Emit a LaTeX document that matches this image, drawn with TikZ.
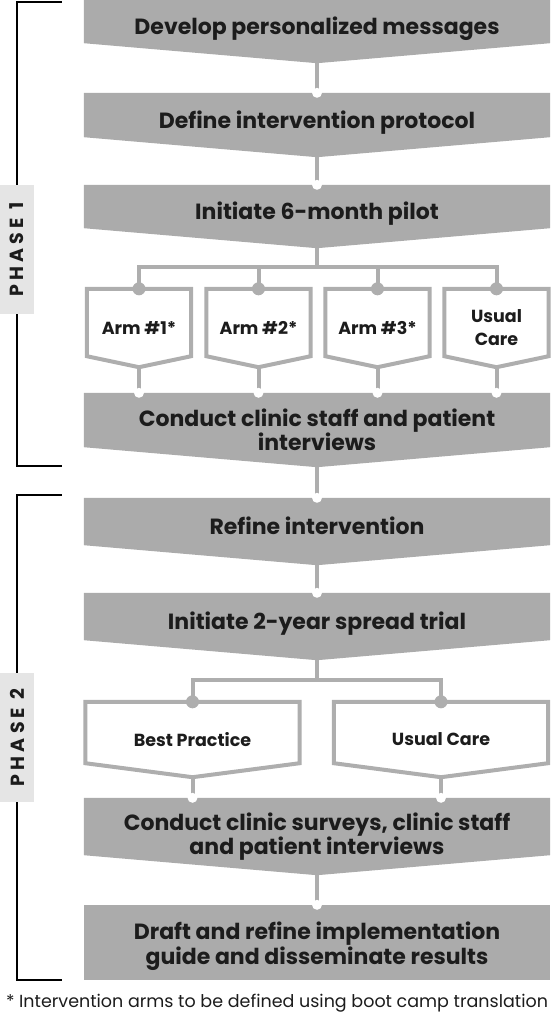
\documentclass[tikz,border=0pt]{standalone}
\usepackage{fontspec}
\setmainfont{Poppins}
\usetikzlibrary{calc, positioning, backgrounds}

\definecolor{stepgray}{RGB}{171,171,171}
\definecolor{wiregray}{RGB}{174,174,174}
\definecolor{tabgray}{RGB}{229,229,229}
\definecolor{inkgray}{RGB}{28,28,28}

\tikzset{
  graystep/.style={minimum width=466pt, inner sep=0pt, align=center, text=inkgray,
    font=\fontsize{22}{24.5}\selectfont\bfseries},
  oneline/.style={text height=17pt, text depth=11pt},
  armstep/.style={minimum width=104pt, inner sep=0pt, align=center, text=inkgray,
    font=\fontsize{17.5}{23}\selectfont\bfseries},
  wire/.style={draw=wiregray, line width=4pt},
  bracket/.style={draw=black, line width=1.6pt},
  phase/.style={fill=tabgray, rotate=90, minimum width=129pt, minimum height=34pt, inner sep=0pt,
    text=inkgray, font=\fontsize{19}{19}\selectfont\bfseries\addfontfeatures{LetterSpace=22}}
}

\begin{document}
\begin{tikzpicture}[x=1pt, y=-1pt]
\useasboundingbox (0,0) rectangle (552,1020);

% phase 1
\node[graystep, oneline, minimum height=63pt] (dev) at (317,31.5) {Develop personalized messages};
\node[graystep, oneline, minimum height=64pt] (proto) at (317,125) {Define intervention protocol};
\node[graystep, oneline, minimum height=63pt] (pilot) at (317,216.5) {Initiate 6-month pilot};
\node[armstep, minimum height=78pt] (arm1) at (139,328) {Arm \#1*};
\node[armstep, minimum height=78pt] (arm2) at (258.5,328) {Arm \#2*};
\node[armstep, minimum height=78pt] (arm3) at (377.5,328) {Arm \#3*};
\node[armstep, minimum height=78pt] (care1) at (496.5,328) {Usual\\Care};
\node[graystep, minimum height=74pt] (talk) at (317,430) {Conduct clinic staff and patient\\interviews};

% phase 2
\node[graystep, oneline, minimum height=67pt] (refine) at (317,531.5) {Refine intervention};
\node[graystep, oneline, minimum height=67pt] (spread) at (317,626.5) {Initiate 2-year spread trial};
\node[armstep, minimum width=214pt, minimum height=75pt] (best) at (192.5,739.5) {Best Practice};
\node[armstep, minimum width=214pt, minimum height=75pt] (care2) at (441,739.5) {Usual Care};
\node[graystep, minimum height=77pt] (survey) at (317,836.5) {Conduct clinic surveys, clinic staff\\and patient interviews};
\node[graystep, fill=stepgray, minimum height=75pt] (guide) at (317,942.5) {\rule{0pt}{25pt}Draft and refine implementation\\guide and disseminate results};

\begin{scope}[on background layer]
\foreach \s in {dev, proto, pilot, talk, refine, spread, survey}
  \fill[stepgray] (\s.north west) -- (\s.north east) -- ([yshift=20pt]\s.south east) -- (\s.south) -- ([yshift=20pt]\s.south west) -- cycle;
\end{scope}

% outlined arms
\foreach \a in {arm1, arm2, arm3, care1}
  \draw[wire] ([yshift=11pt]\a.south west) -- (\a.north west) -- (\a.north east) -- ([yshift=11pt]\a.south east) -- (\a.south) -- cycle;
\foreach \b in {best, care2}
  \draw[wire] ([yshift=14pt]\b.south west) -- (\b.north west) -- (\b.north east) -- ([yshift=14pt]\b.south east) -- (\b.south) -- cycle;

% connectors
\draw[wire] (dev.south) -- (proto.north);
\draw[wire] (proto.south) -- (pilot.north);
\coordinate (fork1) at (317,267);
\draw[wire] (pilot.south) -- (fork1);
\foreach \a in {arm1, arm2, arm3, care1} {
  \draw[wire] (fork1) -| (\a.north);
  \draw[wire] (\a.south) -- (\a.south |- talk.north);
  \fill[wiregray] (\a.north) circle (6.5pt);
  \fill[white] (\a.south |- talk.north) circle (5pt);
}
\draw[wire] (talk.south) -- (refine.north);
\draw[wire] (refine.south) -- (spread.north);
\coordinate (fork2) at (317,680);
\draw[wire] (spread.south) -- (fork2);
\foreach \b in {best, care2} {
  \draw[wire] (fork2) -| (\b.north);
  \draw[wire] (\b.south) -- (\b.south |- survey.north);
  \fill[wiregray] (\b.north) circle (6.5pt);
  \fill[white] (\b.south |- survey.north) circle (5pt);
}
\draw[wire] (survey.south) -- (guide.north);
\foreach \s in {proto, pilot, refine, spread, guide}
  \fill[white] (\s.north) circle (5pt);

% phase brackets
\node[phase] (ph1) at (17,249.5) {PHASE 1};
\coordinate (ph1top) at (62,2);
\coordinate (ph1bot) at (62,466);
\draw[bracket] (ph1.east) |- (ph1top);
\draw[bracket] (ph1.west) |- (ph1bot);
\node[phase] (ph2) at (17,737.5) {PHASE 2};
\coordinate (ph2top) at (62,495);
\coordinate (ph2bot) at (62,980);
\draw[bracket] (ph2.east) |- (ph2top);
\draw[bracket] (ph2.west) |- (ph2bot);

\node[text=inkgray, font=\fontsize{17.5}{20}\selectfont] (note) at (277,1003) {* Intervention arms to be defined using boot camp translation};
\end{tikzpicture}
\end{document}
